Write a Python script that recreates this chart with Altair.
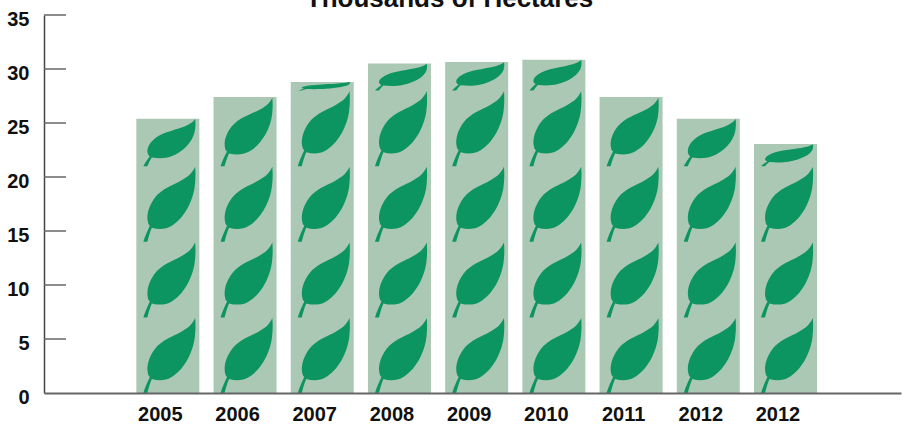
import json
import altair as alt
import pandas as pd

year_labels = ["2005", "2006", "2007", "2008", "2009", "2010", "2011", "2012", "2012"]
hectares = [25.4, 27.4, 28.8, 30.5, 30.65, 30.85, 27.4, 25.4, 23.05]
y_ticks = [0, 5, 10, 15, 20, 25, 30, 35]
title_text = "Thousands of Hectares"

# One leaf stands for this many thousand hectares.
LEAF_UNIT = 7.0
BAR_COLOR = "#abc8b4"
LEAF_COLOR = "#0c9560"
FONT = "Liberation Sans"

# Leaf outline as (command, points); y runs upward from the stem foot at y = 0.
LEAF_SEGMENTS = [
    ("M", [(-24.5, 0)]),
    ("L", [(-20.5, 0)]),
    ("C", [(-19.5, -4), (-18, -9.5), (-16, -14)]),
    ("C", [(-9, -12), (-2, -12.5), (3, -15.5)]),
    ("C", [(15, -22), (25, -39), (27, -56)]),
    ("C", [(27.8, -63), (27.8, -69), (27.3, -75)]),
    ("C", [(24, -68), (20, -65), (13, -61)]),
    ("C", [(5, -56.5), (-6, -53), (-13, -44)]),
    ("C", [(-19, -36), (-21.5, -27), (-20, -20)]),
    ("C", [(-19.7, -18), (-19, -17), (-18, -16)]),
    ("C", [(-20.5, -11), (-23, -5), (-24.5, 0)]),
]


def leaf_path(squash):
    """SVG path of a leaf whose height is scaled by the share of a unit it shows."""
    parts = []
    for command, points in LEAF_SEGMENTS:
        coords = " ".join(f"{x:.2f} {y * squash:.2f}" for x, y in points)
        parts.append(f"{command}{coords}")
    return " ".join(parts) + " Z"


slots = list(range(len(hectares)))
bars = pd.DataFrame({"slot": slots, "value": hectares})

leaf_rows = []
for slot, value in enumerate(hectares):
    whole = int(value // LEAF_UNIT)
    for k in range(whole):
        leaf_rows.append({"slot": slot, "base": k * LEAF_UNIT, "path": leaf_path(1.0)})
    share = value / LEAF_UNIT - whole
    if share > 0:
        leaf_rows.append({"slot": slot, "base": whole * LEAF_UNIT, "path": leaf_path(share)})
leaves = pd.DataFrame(leaf_rows)

# An empty slot on either side leaves the open stretches beside the first and last bars.
x_scale = alt.Scale(
    domain=[-1] + slots + [len(slots)],
    paddingInner=0.184,
    paddingOuter=0.142,
    align=0.69,
)
y_scale = alt.Scale(domain=[0, 35], nice=False)

x_axis = alt.Axis(
    title=None,
    values=slots,
    labelExpr=f"{json.dumps(year_labels)}[datum.value]",
    labelAngle=0,
    labelFont=FONT,
    labelFontWeight="bold",
    labelFontSize=20,
    labelColor="#111111",
    labelOffset=-7.5,
    labelPadding=11,
    ticks=False,
    domainColor="#666666",
    domainWidth=2,
    grid=False,
    zindex=1,
)
y_axis = alt.Axis(
    title=None,
    values=y_ticks,
    labelFont=FONT,
    labelFontWeight="bold",
    labelFontSize=20,
    labelColor="#111111",
    labelOffset=4,
    labelPadding=15,
    ticks=False,
    domainColor="#444444",
    domainWidth=1.5,
    grid=False,
)

bar_layer = alt.Chart(bars).mark_bar(color=BAR_COLOR).encode(
    x=alt.X("slot:O", scale=x_scale, axis=x_axis),
    y=alt.Y("value:Q", scale=y_scale, axis=y_axis),
)

leaf_layer = alt.Chart(leaves).mark_point(
    filled=True, size=4, opacity=1, color=LEAF_COLOR, strokeWidth=0
).encode(
    x=alt.X("slot:O", scale=x_scale, axis=x_axis),
    y=alt.Y("base:Q", scale=y_scale, axis=y_axis),
    shape=alt.Shape("path:N", scale=None, legend=None),
)

tick_layer = alt.Chart(pd.DataFrame({"tick": y_ticks[1:]})).mark_rule(
    color="#666666", strokeWidth=1.5
).encode(
    y=alt.Y("tick:Q", scale=y_scale, axis=y_axis),
    x=alt.value(0),
    x2=alt.value(22),
)

title_layer = alt.Chart(pd.DataFrame({"label": [title_text]})).mark_text(
    font=FONT, fontWeight="bold", fontSize=26, color="#111111", baseline="alphabetic", align="center"
).encode(
    x=alt.value(405.5),
    y=alt.value(-8),
    text="label:N",
)

chart = (
    alt.layer(bar_layer, leaf_layer, tick_layer, title_layer)
    .properties(
        width=857,
        height=378,
        autosize=alt.AutoSizeParams(type="none"),
        padding={"left": 44, "top": 15, "right": 1, "bottom": 32},
        background="white",
    )
    .configure_view(stroke=None)
)

chart.save("out.html", embed_options={"renderer": "svg", "actions": False})
